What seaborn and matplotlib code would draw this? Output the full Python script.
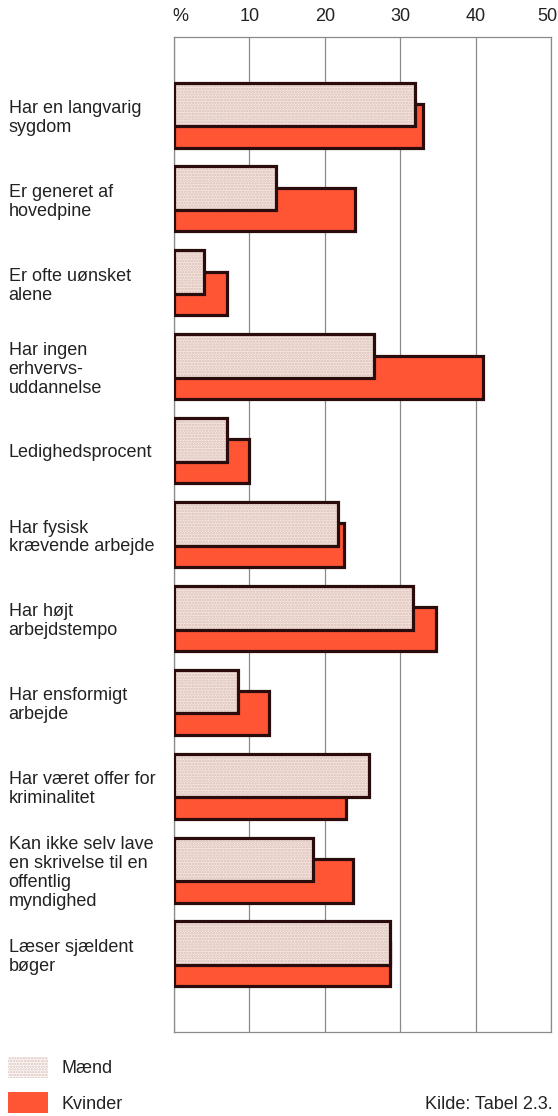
import matplotlib
matplotlib.use("Agg")
import matplotlib.pyplot as plt
import matplotlib.patches as mpatches
import matplotlib.transforms as mtransforms
import seaborn as sns
import pandas as pd

categories = [
    "Har en langvarig\nsygdom",
    "Er generet af\nhovedpine",
    "Er ofte uønsket\nalene",
    "Har ingen\nerhvervs-\nuddannelse",
    "Ledighedsprocent",
    "Har fysisk\nkrævende arbejde",
    "Har højt\narbejdstempo",
    "Har ensformigt\narbejde",
    "Har været offer for\nkriminalitet",
    "Kan ikke selv lave\nen skrivelse til en\noffentlig\nmyndighed",
    "Læser sjældent\nbøger",
]
maend = [32, 13.5, 4, 26.5, 7, 21.7, 31.7, 8.5, 25.8, 18.4, 28.6]
kvinder = [33, 24, 7, 41, 10, 22.6, 34.8, 12.6, 22.8, 23.7, 28.7]
xticks = [0, 10, 20, 30, 40, 50]
xticklabels = ["%", "10", "20", "30", "40", "50"]

RED = "#FF5535"
LIGHT = "#F6E7E1"
DOTS = "#D9BDB5"
EDGE = "#2A0C0C"
TXT = "#222222"
FS = 13

df = pd.DataFrame({"kategori": categories, "Mænd": maend, "Kvinder": kvinder})

sns.set_style("white")
plt.rcParams["font.family"] = ["Liberation Sans", "DejaVu Sans"]
plt.rcParams["hatch.linewidth"] = 1.2

fig = plt.figure(figsize=(5.58, 11.16), dpi=100)
ax = fig.add_axes([0.3118, 0.0753, 0.9875 - 0.3118, 0.9668 - 0.0753])

bar_h = 0.52
shift = 0.127


def add_bars(col, offset, **kw):
    n0 = len(ax.patches)
    sns.barplot(data=df, x=col, y="kategori", orient="h", width=bar_h, ax=ax, **kw)
    for p in ax.patches[n0:]:
        p.set_y(p.get_y() + offset)


# Kvinder underneath, Mænd drawn on top and shifted up
add_bars("Kvinder", shift, color=RED, edgecolor=EDGE, linewidth=2.3, saturation=1, zorder=3)
add_bars("Mænd", -shift, color=LIGHT, edgecolor=DOTS, hatch="......", linewidth=0, saturation=1, zorder=4)
add_bars("Mænd", -shift, fill=False, edgecolor=EDGE, linewidth=2.3, zorder=5)

ax.set_xlim(0, 50)
ax.set_ylim(10.93, -0.93)
ax.set_xticks(xticks)
ax.set_xticklabels(xticklabels)
ax.xaxis.tick_top()
ax.tick_params(axis="x", length=0, pad=9, labelsize=FS, colors=TXT)
ax.tick_params(axis="y", length=0, pad=119, labelsize=FS, colors=TXT)
for lab in ax.get_yticklabels():
    lab.set_horizontalalignment("left")
    lab.set_linespacing(1.15)
xl = ax.get_xticklabels()
xl[0].set_transform(xl[0].get_transform() + mtransforms.ScaledTranslation(6 / 100, 0, fig.dpi_scale_trans))
xl[-1].set_transform(xl[-1].get_transform() + mtransforms.ScaledTranslation(-4 / 100, 0, fig.dpi_scale_trans))
ax.set_xlabel("")
ax.set_ylabel("")
ax.grid(axis="x", color="#8a8a8a", linewidth=0.9)
ax.set_axisbelow(True)
for s in ax.spines.values():
    s.set_color("#8a8a8a")
    s.set_linewidth(0.9)

handles = [
    mpatches.Patch(facecolor="white", edgecolor=DOTS, hatch="......", linewidth=0, label="Mænd"),
    mpatches.Patch(facecolor=RED, edgecolor=RED, linewidth=0, label="Kvinder"),
]
fig.legend(handles=handles, loc="lower left", bbox_to_anchor=(8 / 558, 3 / 1116),
           frameon=False, borderpad=0, borderaxespad=0,
           handlelength=2.2, handleheight=1.4, handletextpad=0.75,
           labelspacing=0.8, fontsize=FS, labelcolor=TXT)
fig.text(0.99, 0.003, "Kilde: Tabel 2.3.", ha="right", va="bottom", fontsize=FS, color=TXT)

fig.savefig("out.png", dpi=100)
